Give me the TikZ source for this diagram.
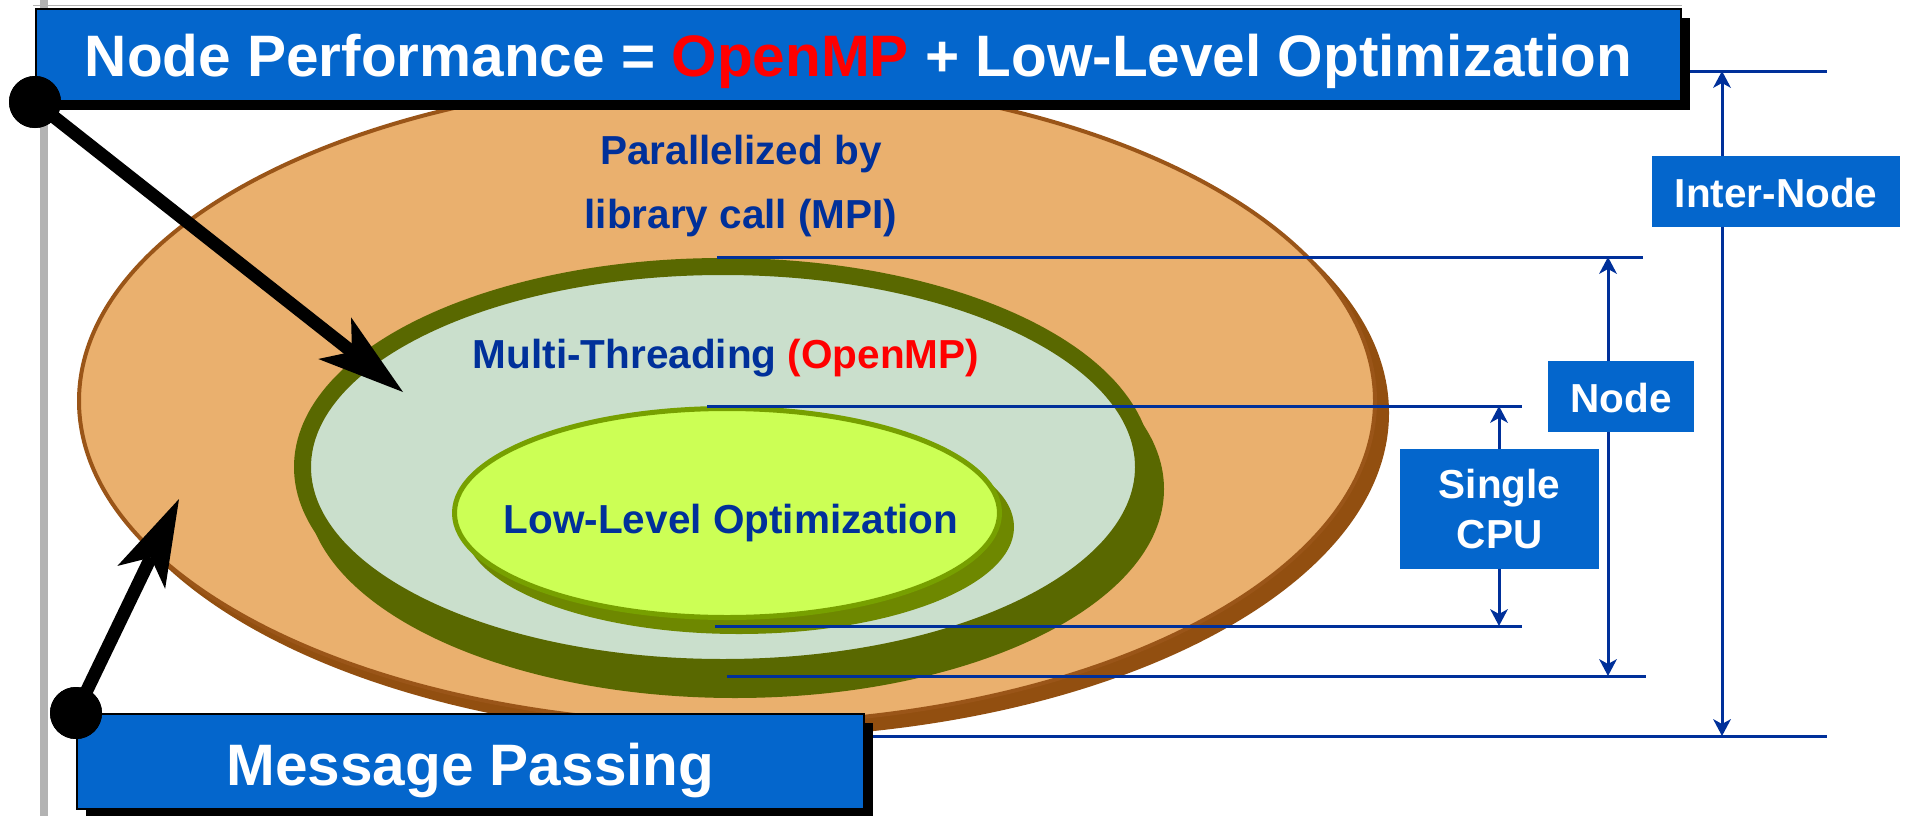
\documentclass[tikz,border=0pt]{standalone}
\usepackage{fontspec}
\setmainfont{Liberation Sans}
\usetikzlibrary{arrows.meta,shadows}

\definecolor{boxblue}{HTML}{0466CC}
\definecolor{navy}{HTML}{00309A}
\definecolor{mpired}{HTML}{FF0000}
\definecolor{orangefill}{HTML}{EAB06E}
\definecolor{orangeedge}{HTML}{9A5518}
\definecolor{orangeshadow}{HTML}{924F10}
\definecolor{mtfill}{HTML}{CADFCC}
\definecolor{olive}{HTML}{596800}
\definecolor{limefill}{HTML}{CCFF55}
\definecolor{limeedge}{HTML}{77A000}
\definecolor{limeshadow}{HTML}{6E8800}
\definecolor{framegray}{HTML}{B3B3B3}

\begin{document}
\begin{tikzpicture}[x=1pt,y=-1pt,
  bluebox/.style={rectangle, fill=boxblue, inner sep=0pt, text=white, align=center},
  bannerbox/.style={bluebox, draw=black, line width=2pt,
    font=\bfseries\fontsize{58.5}{70}\selectfont,
    drop shadow={shadow xshift=9pt, shadow yshift=-9pt, fill=black, opacity=1}},
  dimbox/.style={bluebox, font=\bfseries\fontsize{40.5}{50}\selectfont},
  ringtext/.style={inner sep=0pt, text=navy, align=center,
    font=\bfseries\fontsize{40.5}{64}\selectfont},
  dimline/.style={draw=navy, line width=3pt},
  dimarrow/.style={draw=navy, line width=3pt,
    -{Stealth[length=17pt,width=18pt,inset=5pt,line width=0pt]}},
  bigarrow/.style={draw=black, line width=13pt,
    -{Stealth[length=87pt,width=53pt,inset=22pt,line width=0pt]}},
  anchordot/.style={circle, fill=black, minimum size=52pt, inner sep=0pt},
]
\useasboundingbox (0,0) rectangle (1905,816);

% slide frame
\draw[framegray, line width=8pt] (43.5,0) -- (43.5,816);
\draw[framegray, line width=1.5pt] (33,5.5) -- (1682,5.5);

% outer ellipse: inter-node parallelism
\fill[orangeshadow] (739,413) ellipse [x radius=650pt, y radius=325pt];
\filldraw[fill=orangefill, draw=orangeedge, line width=4pt]
  (727,401) ellipse [x radius=648pt, y radius=323pt];

% middle ellipse: multi-threading
\fill[olive] (735,489) ellipse [x radius=429pt, y radius=209pt];
\filldraw[fill=mtfill, draw=olive, line width=17pt]
  (723,467) ellipse [x radius=420.5pt, y radius=200.5pt];

% inner ellipse: low-level optimization
\fill[limeshadow] (739,527) ellipse [x radius=275pt, y radius=107pt];
\filldraw[fill=limefill, draw=limeedge, line width=5pt]
  (727,513) ellipse [x radius=272.5pt, y radius=104.5pt];

% texts inside the ellipses
\node[ringtext] (mpi) at (741,186) {Parallelized by\\library call (MPI)};
\node[ringtext, anchor=base] (omp) at (726,368)
  {Multi-Threading \textcolor{mpired}{(OpenMP)}};
\node[ringtext, anchor=base] (llo) at (731,533) {Low-Level Optimization};

% dimension extension lines
\coordinate (itopL) at (1688,71);  \coordinate (itopR) at (1827,71);
\coordinate (ibotL) at (860,736);  \coordinate (ibotR) at (1827,736);
\coordinate (ntopL) at (717,257);  \coordinate (ntopR) at (1643,257);
\coordinate (nbotL) at (727,676);  \coordinate (nbotR) at (1646,676);
\coordinate (ctopL) at (707,406);  \coordinate (ctopR) at (1522,406);
\coordinate (cbotL) at (715,626);  \coordinate (cbotR) at (1522,626);
\draw[dimline] (itopL) -- (itopR);
\draw[dimline] (ibotL) -- (ibotR);
\draw[dimline] (ntopL) -- (ntopR);
\draw[dimline] (nbotL) -- (nbotR);
\draw[dimline] (ctopL) -- (ctopR);
\draw[dimline] (cbotL) -- (cbotR);

% dimension labels
\node[dimbox, anchor=north west, minimum width=248pt, text height=51pt, text depth=20pt]
  (interbox) at (1652,156) {Inter-Node};
\node[dimbox, anchor=north west, minimum width=146pt, text height=51pt, text depth=20pt]
  (nodebox) at (1548,361) {Node};
\node[dimbox, anchor=north west, minimum width=199pt, minimum height=120pt]
  (cpubox) at (1400,449) {Single\\CPU};

% dimension arrows
\coordinate (iup) at (1722,71);  \coordinate (idown) at (1722,736);
\coordinate (nup) at (1608,257); \coordinate (ndown) at (1608,676);
\coordinate (cup) at (1499,406); \coordinate (cdown) at (1499,626);
\draw[dimarrow] (interbox.north -| iup) -- (iup);
\draw[dimarrow] (interbox.south -| idown) -- (idown);
\draw[dimarrow] (nodebox.north -| nup) -- (nup);
\draw[dimarrow] (nodebox.south -| ndown) -- (ndown);
\draw[dimarrow] (cpubox.north -| cup) -- (cup);
\draw[dimarrow] (cpubox.south -| cdown) -- (cdown);

% banners
\node[bannerbox, anchor=north west, minimum width=1645pt, text height=68pt, text depth=24pt]
  (title) at (35,8) {Node Performance = \textcolor{mpired}{OpenMP} + Low-Level Optimization};
\node[bannerbox, anchor=north west, minimum width=787pt, text height=71pt, text depth=24pt]
  (msgbox) at (76,713) {Message Passing};

% pointers from the banners into the ellipses
\node[anchordot] (dot1) at (title.south west) {};
\node[anchordot] (dot2) at (msgbox.north west) {};
\coordinate (tip1) at (403,392);
\coordinate (tip2) at (179,499);
\draw[bigarrow] (dot1.center) -- (tip1);
\draw[bigarrow] (dot2.center) -- (tip2);
\node[anchordot] at (dot1.center) {};
\node[anchordot] at (dot2.center) {};
\end{tikzpicture}
\end{document}
